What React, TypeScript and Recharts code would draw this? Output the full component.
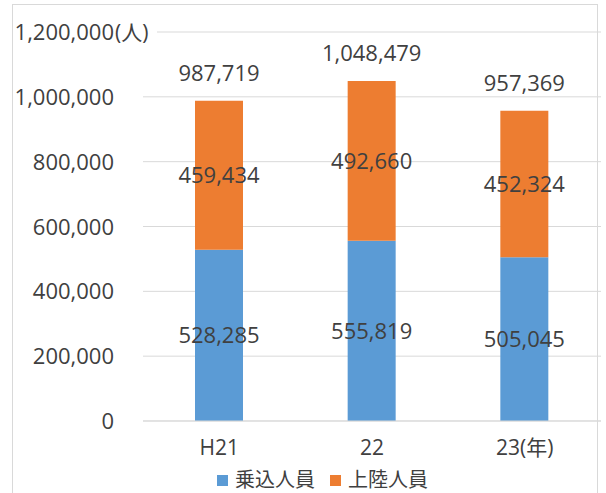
import React from 'react';
import { BarChart, Bar, XAxis, YAxis, CartesianGrid, Legend, LabelList } from 'recharts';

const CATEGORIES = ['H21', '22', '23(年)'];
const BOARDING = [528285, 555819, 505045];
const LANDING = [459434, 492660, 452324];
const TOTALS = [987719, 1048479, 957369];
const Y_TICKS = [0, 200000, 400000, 600000, 800000, 1000000, 1200000];

const SERIES = [
  { key: 'boarding', name: '乗込人員', color: '#5B9BD5' },
  { key: 'landing', name: '上陸人員', color: '#ED7D31' },
];

const data = CATEGORIES.map((name, i) => ({
  name,
  boarding: BOARDING[i],
  landing: LANDING[i],
  total: TOTALS[i],
}));

const FONT = '"Open Sans", "Noto Sans CJK JP", sans-serif';
const TEXT = '#404040';
const NUM_SIZE = 22;
const fmt = (v: number) => v.toLocaleString('en-US');

const YTick = (props: any) => {
  const { x, y, payload } = props;
  return (
    <g>
      <text x={x} y={y} dy={8} textAnchor="end" fill={TEXT} fontSize={NUM_SIZE} fontFamily={FONT}>
        {fmt(payload.value)}
      </text>
      {payload.value === 1200000 && (
        <g>
          <rect x={x + 1} y={y - 14} width={42} height={28} fill="#fff" />
          <text x={x + 1} y={y} dy={8} textAnchor="start" fill={TEXT} fontSize={21} fontFamily={FONT}>
            (人)
          </text>
        </g>
      )}
    </g>
  );
};

const LegendContent = () => (
  <div style={{ display: 'flex', alignItems: 'center', fontFamily: FONT, fontSize: 20, lineHeight: '22px', color: TEXT }}>
    {SERIES.map(s => (
      <div key={s.key} style={{ display: 'flex', alignItems: 'center', marginRight: 15 }}>
        <span style={{ width: 11, height: 11, background: s.color, display: 'inline-block', marginRight: 7 }} />
        <span>{s.name}</span>
      </div>
    ))}
  </div>
);

export default function App() {
  return (
    <div style={{ position: 'absolute', left: 0, top: 0, width: 606, height: 493, overflow: 'hidden', background: '#fff' }}>
      <div
        style={{
          position: 'absolute',
          left: 12,
          top: 4,
          width: 586,
          height: 500,
          border: '1px solid #d9d9d9',
          boxSizing: 'border-box',
        }}
      />
      <BarChart
        width={606}
        height={493}
        data={data}
        margin={{ top: 32, right: 5, bottom: 8, left: 0 }}
        style={{ position: 'absolute', left: 0, top: 0 }}
      >
        <CartesianGrid vertical={false} stroke="#d9d9d9" />
        <XAxis
          dataKey="name"
          axisLine={{ stroke: '#d9d9d9' }}
          tickLine={false}
          tickSize={0}
          tickMargin={19}
          height={42}
          tick={{ fill: TEXT, fontSize: 21, fontFamily: FONT }}
        />
        <YAxis
          width={143}
          domain={[0, 1200000]}
          ticks={Y_TICKS}
          axisLine={false}
          tickLine={false}
          tickSize={0}
          tickMargin={29}
          tick={<YTick />}
        />
        <Legend
          content={<LegendContent />}
          wrapperStyle={{ left: 217, top: 469, width: 'auto', bottom: 'auto' }}
        />
        <Bar dataKey="boarding" name="乗込人員" stackId="a" fill="#5B9BD5" barSize={48} isAnimationActive={false}>
          <LabelList dataKey="boarding" position="center" formatter={(v: any) => fmt(v)} fill={TEXT} fontSize={NUM_SIZE} fontFamily={FONT} />
        </Bar>
        <Bar dataKey="landing" name="上陸人員" stackId="a" fill="#ED7D31" barSize={48} isAnimationActive={false}>
          <LabelList dataKey="landing" position="center" formatter={(v: any) => fmt(v)} fill={TEXT} fontSize={NUM_SIZE} fontFamily={FONT} />
          <LabelList dataKey="total" position="top" offset={20} formatter={(v: any) => fmt(v)} fill={TEXT} fontSize={NUM_SIZE} fontFamily={FONT} />
        </Bar>
      </BarChart>
    </div>
  );
}
